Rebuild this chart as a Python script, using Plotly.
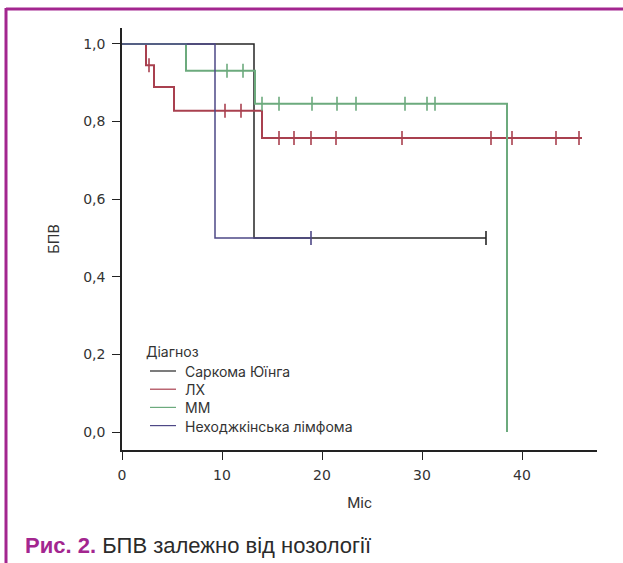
import plotly.graph_objects as go

# ---- data ----
groups = ["Саркома Юїнга", "ЛХ", "ММ", "Неходжкінська лімфома"]

sarcoma_event_t = [13.2]
sarcoma_surv = [0.5]
sarcoma_censor = [36.4]
sarcoma_end = 36.4

lh_event_t = [2.4, 3.2, 5.2, 14.0]
lh_surv = [0.945, 0.889, 0.828, 0.758]
lh_censor = [2.7, 10.3, 11.9, 15.7, 17.2, 18.9, 21.4, 28.0, 36.9, 39.0, 43.4, 45.7]
lh_end = 46.0

mm_event_t = [6.4, 13.3, 38.5]
mm_surv = [0.931, 0.846, 0.0]
mm_censor = [10.5, 12.1, 14.0, 15.7, 19.0, 21.5, 23.4, 28.3, 30.5, 31.3]
mm_end = 38.5

nhl_event_t = [9.3]
nhl_surv = [0.5]
nhl_censor = [18.9]
nhl_end = 18.9

x_ticks = [0, 10, 20, 30, 40]
y_ticks = [0.0, 0.2, 0.4, 0.6, 0.8, 1.0]

colors = ["#262626", "#a9404f", "#6caa7d", "#4e4886"]
widths = [1.5, 2.0, 2.0, 1.5]

W, H = 623, 563
L, R, T, B = 122, 26, 28, 113


def px(xp):
    return (xp - L) / (W - L - R)


def py(yp):
    return 1 - (yp - T) / (H - T - B)


def surv_at(t, ev_t, ev_s):
    s = 1.0
    for et, es in zip(ev_t, ev_s):
        if et <= t:
            s = es
    return s


fig = go.Figure()
series = [
    (sarcoma_event_t, sarcoma_surv, sarcoma_censor, sarcoma_end),
    (lh_event_t, lh_surv, lh_censor, lh_end),
    (mm_event_t, mm_surv, mm_censor, mm_end),
    (nhl_event_t, nhl_surv, nhl_censor, nhl_end),
]
for name, (et, es, cen, end), col, lw in zip(groups, series, colors, widths):
    xs = [0] + list(et)
    ys = [1.0] + list(es)
    if end > xs[-1]:
        xs.append(end)
        ys.append(ys[-1])
    fig.add_trace(go.Scatter(
        x=xs, y=ys, mode="lines", line=dict(color=col, width=lw, shape="hv"),
        name=name, showlegend=False, hoverinfo="skip"))
    fig.add_trace(go.Scatter(
        x=cen, y=[surv_at(c, et, es) for c in cen], mode="markers",
        marker=dict(symbol="line-ns", size=10, line=dict(color=col, width=1.6)),
        name=name, showlegend=False, hoverinfo="skip"))

purple = "#a3268f"
LEG_FS = 14
legend_font = dict(family="Inter, Roboto, sans-serif", size=LEG_FS, color="#333333")
tick_font = dict(family="DejaVu Sans, sans-serif", size=14, color="#333333")
title_font = dict(family="Roboto, sans-serif", size=15, color="#333333")

shapes = [
    dict(type="line", xref="paper", yref="paper", x0=px(6), x1=px(623),
         y0=py(9), y1=py(9), line=dict(color=purple, width=3)),
    dict(type="line", xref="paper", yref="paper", x0=px(6), x1=px(6),
         y0=py(8), y1=py(563), line=dict(color=purple, width=3)),
]
line_h = 1.3 * LEG_FS
first_row = 371
legend_rows = [first_row + i * line_h for i in range(len(groups))]
annotations = [
    dict(xref="paper", yref="paper", x=px(23), y=py(545), xanchor="left",
         yanchor="middle", showarrow=False,
         text="<b><span style='color:%s'>Рис. 2.</span></b> БПВ залежно від нозології" % purple,
         font=dict(family="Liberation Sans, Arial, sans-serif", size=22, color="#2b2b2b")),
    dict(xref="paper", yref="paper", x=px(145), y=py(first_row - line_h / 2 - 0.5),
         xanchor="left", yanchor="bottom", showarrow=False, borderpad=0,
         text="Діагноз", font=legend_font),
    dict(xref="paper", yref="paper", x=px(184), y=py(first_row - line_h / 2 + 0.5),
         xanchor="left", yanchor="top", align="left", showarrow=False, borderpad=0,
         text="<br>".join(groups), font=legend_font),
]
for col, yy in zip(colors, legend_rows):
    shapes.append(dict(type="line", xref="paper", yref="paper", x0=px(150), x1=px(176),
                       y0=py(yy), y1=py(yy), line=dict(color=col, width=1.2)))

fig.update_layout(
    width=W, height=H,
    margin=dict(l=L, r=R, t=T, b=B),
    paper_bgcolor="white", plot_bgcolor="white",
    separators=", ",
    showlegend=False,
    font=dict(family="Roboto, Inter, sans-serif", size=14, color="#333333"),
    xaxis=dict(
        range=[0, 47.5], tickvals=x_ticks, ticks="outside", ticklen=8, tickwidth=1.2,
        tickcolor="#222", showline=True, linecolor="#222", linewidth=1.5,
        showgrid=False, zeroline=False, tickfont=tick_font, ticklabelstandoff=3,
        title=dict(text="Міс", font=title_font, standoff=16)),
    yaxis=dict(
        range=[-0.0464, 1.0412], tickvals=y_ticks, tickformat=".1f", ticks="outside",
        ticklen=8, tickwidth=1.2, tickcolor="#222", showline=True, linecolor="#222",
        linewidth=1.5, showgrid=False, zeroline=False, ticklabelstandoff=4,
        tickfont=tick_font,
        title=dict(text="БПВ", font=title_font, standoff=20)),
    shapes=shapes,
    annotations=annotations,
)

fig.write_html("out.html", config={"displayModeBar": False},
               post_script="document.body.style.margin='0px';document.body.style.overflow='hidden';")
